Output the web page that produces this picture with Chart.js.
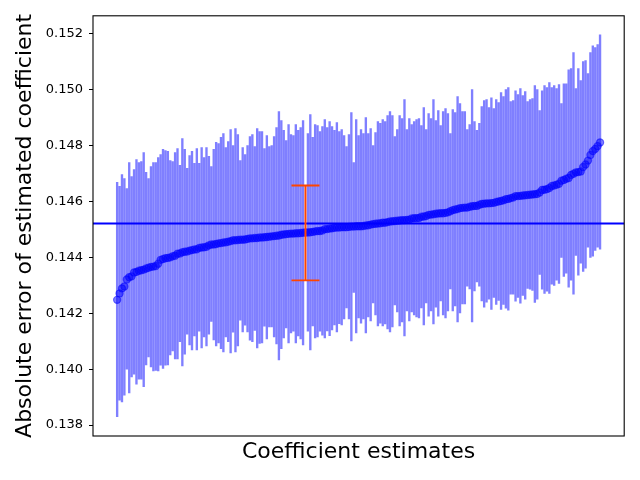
<!DOCTYPE html>
<html>
<head>
<meta charset="utf-8">
<title>Coefficient estimates</title>
<script src="https://cdn.jsdelivr.net/npm/chart.js@4.4.1/dist/chart.umd.min.js"></script>
<style>
    html, body { margin: 0; padding: 0; background: #fff; }
    #wrap { width: 640px; height: 480px; }
</style>
</head>
<body>
<div id="wrap"><canvas id="chart" width="640" height="480"></canvas></div>
<script>
// Sorted coefficient estimates (one per index)
const estimates = [
    0.14248,0.14271,0.14289,0.14296,0.14321,0.14329,0.14332,0.14346,0.14348,0.14352,
    0.14354,0.14356,0.14360,0.14363,0.14366,0.14367,0.14369,0.14377,0.14391,0.14394,
    0.14397,0.14398,0.14400,0.14404,0.14406,0.14413,0.14414,0.14418,0.14420,0.14421,
    0.14424,0.14426,0.14428,0.14429,0.14434,0.14435,0.14436,0.14438,0.14443,0.14446,
    0.14446,0.14448,0.14450,0.14451,0.14453,0.14454,0.14456,0.14458,0.14461,0.14461,
    0.14462,0.14463,0.14463,0.14464,0.14466,0.14468,0.14468,0.14469,0.14469,0.14471,
    0.14471,0.14472,0.14473,0.14474,0.14475,0.14476,0.14477,0.14478,0.14481,0.14482,
    0.14483,0.14484,0.14485,0.14485,0.14486,0.14486,0.14487,0.14488,0.14489,0.14489,
    0.14490,0.14491,0.14493,0.14494,0.14494,0.14496,0.14501,0.14501,0.14503,0.14504,
    0.14506,0.14507,0.14507,0.14508,0.14508,0.14508,0.14509,0.14510,0.14510,0.14511,
    0.14511,0.14511,0.14512,0.14514,0.14515,0.14517,0.14519,0.14520,0.14521,0.14522,
    0.14524,0.14524,0.14526,0.14528,0.14529,0.14530,0.14531,0.14532,0.14533,0.14533,
    0.14534,0.14535,0.14539,0.14540,0.14540,0.14541,0.14545,0.14546,0.14548,0.14552,
    0.14553,0.14554,0.14556,0.14557,0.14558,0.14558,0.14559,0.14561,0.14565,0.14569,
    0.14571,0.14573,0.14576,0.14577,0.14578,0.14578,0.14581,0.14583,0.14584,0.14584,
    0.14588,0.14591,0.14592,0.14593,0.14593,0.14594,0.14595,0.14598,0.14600,0.14602,
    0.14604,0.14608,0.14609,0.14612,0.14614,0.14619,0.14619,0.14620,0.14621,0.14622,
    0.14623,0.14624,0.14625,0.14626,0.14627,0.14632,0.14641,0.14642,0.14644,0.14648,
    0.14655,0.14657,0.14660,0.14663,0.14674,0.14677,0.14681,0.14684,0.14695,0.14699,
    0.14704,0.14705,0.14707,0.14723,0.14732,0.14746,0.14766,0.14780,0.14788,0.14798,
    0.14811
];

// Lower / upper ends of each blue error bar (null = drawn in red instead)
const lowerBounds = [
    0.13830,0.13889,0.13883,0.13907,0.14000,0.13915,0.13972,0.13982,0.13946,0.13964,
    0.13964,0.13937,0.14015,0.14044,0.14008,0.13994,0.13996,0.13994,0.14014,0.14003,
    0.14014,0.14015,0.14051,0.14065,0.14037,0.14037,0.14098,0.14012,0.14054,0.14125,
    0.14087,0.14069,0.14119,0.14069,0.14136,0.14076,0.14115,0.14083,0.14125,0.14171,
    0.14105,0.14083,0.14094,0.14073,0.14062,0.14115,0.14098,0.14058,0.14132,0.14062,
    0.14083,0.14175,0.14133,0.14157,0.14133,0.14104,0.14098,0.14139,0.14076,0.14092,
    0.14094,0.14154,0.14108,0.14151,0.14151,0.14115,0.14090,0.14033,0.14073,0.14112,
    0.14148,0.14094,0.14130,0.14136,0.14094,0.14119,0.14108,0.14087,null,0.14136,
    0.14069,0.14155,0.14112,0.14115,0.14136,0.14122,0.14112,0.14137,0.14120,0.14140,
    0.14158,0.14133,0.14163,0.14158,0.14180,0.14219,0.14180,0.14101,0.14275,0.14130,
    0.14183,0.14165,
    0.14180,0.14130,0.14187,0.14173,0.14237,0.14194,0.14155,0.14165,0.14155,0.14162,
    0.14144,0.14133,0.14151,0.14230,0.14205,0.14155,0.14169,0.14119,0.14208,0.14173,
    0.14205,0.14194,0.14187,0.14183,0.14219,0.14158,0.14237,0.14190,0.14208,0.14162,
    0.14222,0.14190,0.14244,0.14194,0.14183,0.14208,0.14287,0.14208,0.14226,0.14169,
    0.14201,0.14233,0.14233,0.14297,0.14287,0.14169,0.14280,0.14312,0.14297,0.14244,
    0.14222,0.14240,
    0.14250,0.14214,0.14257,0.14232,0.14246,0.14214,0.14232,0.14218,0.14211,0.14268,
    0.14268,0.14243,0.14257,0.14236,0.14264,0.14250,0.14289,0.14286,0.14282,0.14239,
    0.14250,0.14339,0.14286,0.14271,0.14279,0.14271,0.14304,0.14300,0.14318,0.14307,
    0.14400,0.14332,0.14343,0.14293,0.14318,0.14268,0.14407,0.14336,0.14379,0.14350,
    0.14361,0.14436,0.14400,0.14404,0.14425,0.14436,0.14429
];

const upperBounds = [
    0.14668,0.14654,0.14696,0.14682,0.14646,0.14739,0.14689,0.14714,0.14750,0.14739,
    0.14743,0.14775,0.14704,0.14682,0.14725,0.14739,0.14739,0.14757,0.14768,0.14786,
    0.14782,0.14779,0.14746,0.14743,0.14775,0.14789,0.14729,0.14825,0.14786,0.14718,
    0.14764,0.14779,0.14736,0.14789,0.14736,0.14793,0.14757,0.14793,0.14761,0.14725,
    0.14786,0.14811,0.14807,0.14829,0.14843,0.14793,0.14814,0.14857,0.14800,0.14861,
    0.14839,0.14746,0.14793,0.14768,0.14800,0.14832,0.14839,0.14796,0.14861,0.14850,
    0.14850,0.14789,0.14836,0.14796,0.14800,0.14832,0.14864,0.14921,0.14889,0.14854,
    0.14818,0.14875,0.14839,0.14836,0.14875,0.14854,0.14864,0.14889,null,0.14843,
    0.14911,0.14829,0.14875,0.14871,0.14850,0.14868,0.14893,0.14864,0.14886,0.14868,
    0.14854,0.14882,0.14850,0.14857,0.14836,0.14796,0.14839,0.14918,0.14739,0.14893,
    0.14836,0.14857,
    0.14843,0.14900,0.14843,0.14861,0.14800,0.14846,0.14886,0.14879,0.14893,0.14886,
    0.14907,0.14921,0.14907,0.14832,0.14857,0.14907,0.14896,0.14964,0.14857,0.14896,
    0.14875,0.14886,0.14893,0.14896,0.14871,0.14936,0.14857,0.14914,0.14896,0.14964,
    0.14889,0.14925,0.14871,0.14921,0.14932,0.14914,0.14843,0.14929,0.14918,0.14975,
    0.14950,0.14921,0.14921,0.14857,0.14875,0.15000,0.14886,0.14854,0.14879,0.14939,
    0.14961,0.14964,
    0.14936,0.14971,0.14932,0.14964,0.14954,0.14989,0.14975,0.15000,0.15007,0.14957,
    0.14961,0.14996,0.14982,0.15004,0.14979,0.14993,0.14957,0.14964,0.14968,0.15014,
    0.15000,0.14925,0.14996,0.15014,0.15007,0.15025,0.15007,0.15014,0.15004,0.15018,
    0.14950,0.15021,0.15021,0.15071,0.15075,0.15132,0.15004,0.15075,0.15032,0.15100,
    0.15104,0.15057,0.15132,0.15157,0.15150,0.15161,0.15196
];

// Reference line and the highlighted (red) interval
const refValue = 0.14521;
const highlightIndex = 78;
const highlightLow = 0.14318;
const highlightHigh = 0.14657;

// Axis ticks and limits
const yTicks = [0.138, 0.140, 0.142, 0.144, 0.146, 0.148, 0.150, 0.152];
const yMin = 0.13761;
const yMax = 0.15264;
const xMin = -10;
const xMax = 210;

const blueAlpha = 'rgba(0, 0, 255, 0.5)';
const redColor = '#ff4500';

// Datasets
const pointData = estimates.map((v, i) => ({ x: i, y: v }));
const barData = [];
lowerBounds.forEach((lo, i) => {
    if (lo !== null && upperBounds[i] !== null) {
        barData.push({ x: i, y: [lo, upperBounds[i]] });
    }
});

// Marco de los ejes (caja negra)
const framePlugin = {
    id: 'frame',
    afterDatasetsDraw(chart) {
        const { ctx, chartArea } = chart;
        ctx.save();
        ctx.strokeStyle = '#000';
        ctx.lineWidth = 1.1;
        ctx.strokeRect(chartArea.left, chartArea.top, chartArea.right - chartArea.left, chartArea.bottom - chartArea.top);
        ctx.restore();
    }
};

new Chart(document.getElementById('chart'), {
    type: 'scatter',
    data: {
        datasets: [
            {
                type: 'line',
                label: 'highlight',
                data: [{ x: highlightIndex, y: highlightLow }, { x: highlightIndex, y: highlightHigh }],
                borderColor: redColor,
                borderWidth: 2,
                pointStyle: 'line',
                pointRadius: 14,
                pointBorderColor: redColor,
                pointBorderWidth: 1.8,
                order: -1
            },
            {
                type: 'scatter',
                label: 'estimates',
                data: pointData,
                backgroundColor: blueAlpha,
                borderColor: blueAlpha,
                pointRadius: 3.6,
                borderWidth: 1.2,
                order: 0
            },
            {
                type: 'line',
                label: 'reference',
                data: [{ x: xMin, y: refValue }, { x: xMax, y: refValue }],
                borderColor: '#0000ff',
                borderWidth: 2,
                pointRadius: 0,
                order: 1
            },
            {
                type: 'bar',
                label: 'errors',
                data: barData,
                backgroundColor: blueAlpha,
                barThickness: 1.7,
                grouped: false,
                order: 2
            }
        ]
    },
    options: {
        responsive: false,
        animation: false,
        devicePixelRatio: 1,
        events: [],
        layout: { padding: { top: 15, right: 15, left: 0, bottom: 0 } },
        plugins: {
            legend: { display: false },
            tooltip: { enabled: false }
        },
        scales: {
            x: {
                type: 'linear',
                min: xMin,
                max: xMax,
                offset: false,
                grid: { display: false },
                border: { display: false },
                ticks: { display: false },
                title: {
                    display: true,
                    text: 'Coefficient estimates',
                    color: '#000',
                    font: { family: 'DejaVu Sans', size: 22 },
                    padding: { top: 0, bottom: 15 }
                },
                afterFit: (scale) => { scale.height = 44; }
            },
            y: {
                min: yMin,
                max: yMax,
                grid: {
                    display: true,
                    drawOnChartArea: false,
                    drawTicks: true,
                    tickLength: 4,
                    tickColor: '#000',
                    color: '#000'
                },
                border: { display: false },
                afterBuildTicks: (scale) => {
                    scale.ticks = yTicks.map(v => ({ value: v }));
                },
                ticks: {
                    color: '#000',
                    padding: 6,
                    font: { family: 'DejaVu Sans', size: 13 },
                    callback: (value) => Number(value).toFixed(3)
                },
                title: {
                    display: true,
                    text: 'Absolute error of estimated coefficient',
                    color: '#000',
                    font: { family: 'DejaVu Sans', size: 22 },
                    padding: { top: 12, bottom: 0 }
                },
                afterFit: (scale) => { scale.width = 93; }
            }
        }
    },
    plugins: [framePlugin]
});
</script>
</body>
</html>
